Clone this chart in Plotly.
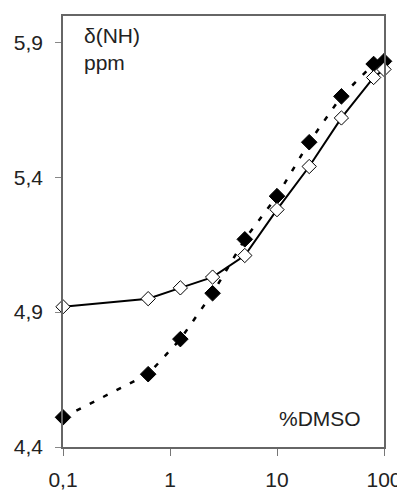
import plotly.graph_objects as go

dmso = [0.1, 0.625, 1.25, 2.5, 5, 10, 20, 40, 80, 100]
open_vals = [4.92, 4.95, 4.99, 5.03, 5.11, 5.28, 5.44, 5.62, 5.77, 5.80]
filled_vals = [4.51, 4.67, 4.80, 4.97, 5.17, 5.33, 5.53, 5.70, 5.82, 5.83]
y_ticks = [4.4, 4.9, 5.4, 5.9]
y_labels = ["4,4", "4,9", "5,4", "5,9"]
x_ticks = [0.1, 1, 10, 100]
x_labels = ["0,1", "1", "10", "100"]

fig = go.Figure()
fig.add_trace(go.Scatter(
    x=dmso, y=filled_vals, mode="lines+markers",
    line=dict(color="black", width=2.5, dash="5px,10px"),
    marker=dict(symbol="diamond", size=12, color="black", line=dict(color="black", width=1)),
    cliponaxis=False, showlegend=False))
fig.add_trace(go.Scatter(
    x=dmso, y=open_vals, mode="lines+markers",
    line=dict(color="black", width=2),
    marker=dict(symbol="diamond", size=11, color="white", line=dict(color="black", width=1)),
    cliponaxis=False, showlegend=False))

font = dict(family="Liberation Sans, Arial, sans-serif", size=21, color="#222")
fig.update_layout(
    width=397, height=482,
    margin=dict(l=55, r=21, t=8, b=43),
    paper_bgcolor="white", plot_bgcolor="white",
    font=font,
    xaxis=dict(type="log", range=[-1, 2], tickvals=x_ticks, ticktext=x_labels,
               showgrid=False, zeroline=False, showline=True, mirror=True,
               linecolor="#666", linewidth=1.5, ticks="outside", ticklen=7,
               tickcolor="#777", ticklabelstandoff=6, automargin=False),
    yaxis=dict(range=[4.4, 5.998], tickvals=y_ticks, ticktext=y_labels,
               showgrid=False, zeroline=False, showline=True, mirror=True,
               linecolor="#666", linewidth=1.5, ticks="outside", ticklen=6,
               tickcolor="#888", ticklabelstandoff=8, automargin=False),
    annotations=[
        dict(text="δ(NH)<br>ppm", xref="paper", yref="paper", x=0.058, y=0.985,
             xanchor="left", yanchor="top", showarrow=False, align="left",
             font=font),
        dict(text="%DMSO", xref="paper", yref="paper", x=0.935, y=0.035,
             xanchor="right", yanchor="bottom", showarrow=False, font=font),
    ],
)
fig.write_html("out.html")
